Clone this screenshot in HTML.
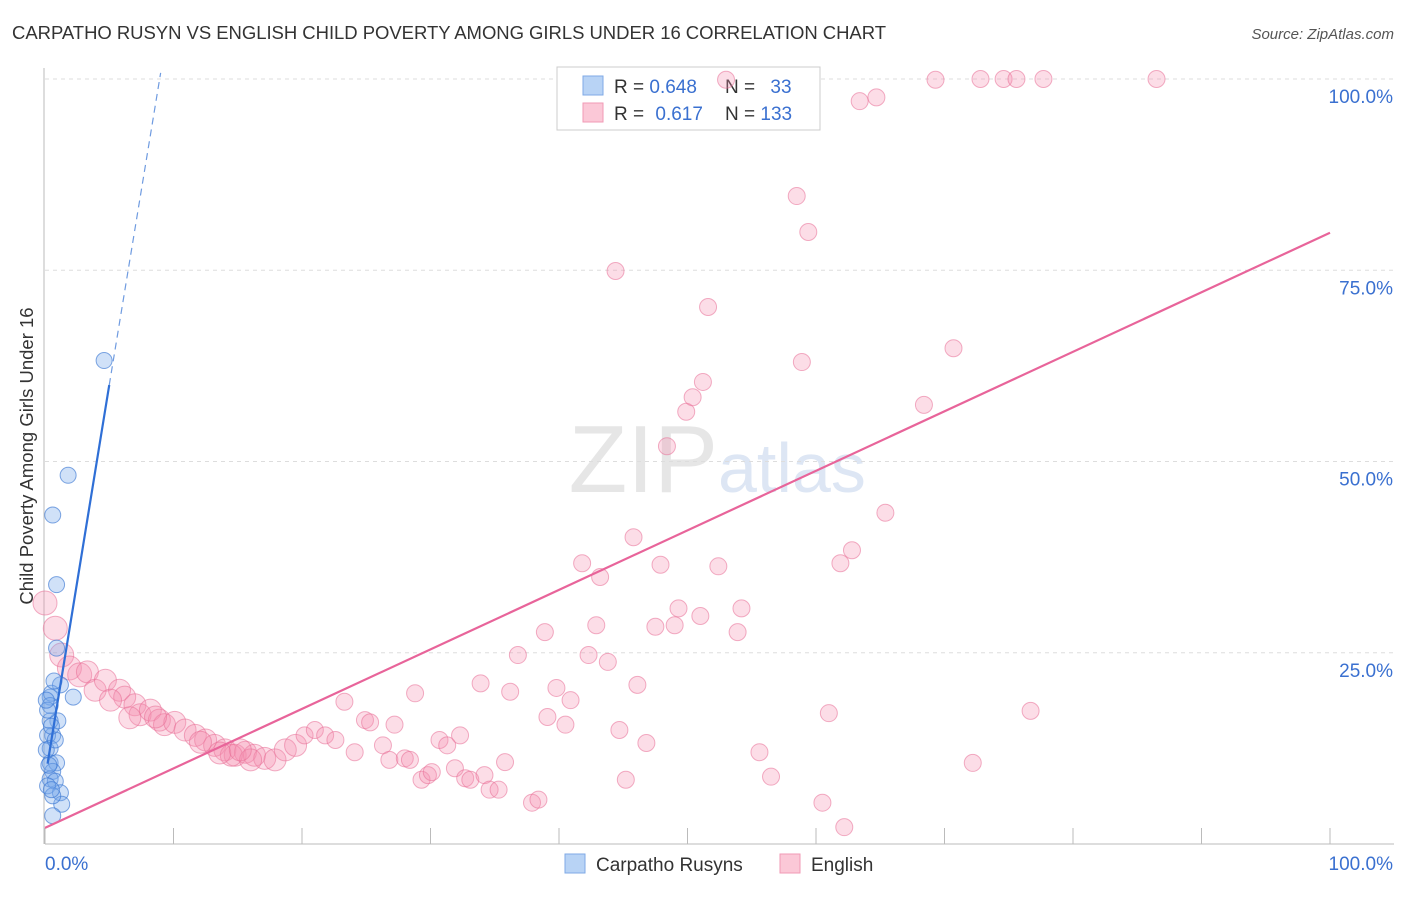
<!DOCTYPE html>
<html><head><meta charset="utf-8">
<style>
body{margin:0;background:#fff;font-family:"Liberation Sans",sans-serif;}
svg text{font-family:"Liberation Sans",sans-serif;}
</style></head>
<body>
<svg id="chart" width="1406" height="892" xmlns="http://www.w3.org/2000/svg">
<text x="12" y="39" font-size="18.5" fill="#333" textLength="874">CARPATHO RUSYN VS ENGLISH CHILD POVERTY AMONG GIRLS UNDER 16 CORRELATION CHART</text>
<text x="1394" y="39" font-size="15" fill="#555" text-anchor="end" font-style="italic">Source: ZipAtlas.com</text>
<text x="718" y="492" font-size="96" fill="#e6e6e6" text-anchor="end" font-family="Liberation Serif">ZIP</text>
<text x="718" y="492" font-size="70" fill="#dde6f4">atlas</text>
<g id="grid"></g>
<g id="axes"></g>
<g>
<rect x="557" y="67" width="263" height="63" fill="#fff" stroke="#ccc"/>
<rect x="583" y="76" width="20" height="19" fill="#b8d3f5" stroke="#7fa9e6"/>
<rect x="583" y="103" width="20" height="19" fill="#fbc8d7" stroke="#f09ab5"/>
<text x="614" y="93" font-size="19" fill="#333">R = <tspan fill="#3a70d0">0.648</tspan></text>
<text x="725" y="93" font-size="19" fill="#333">N = <tspan fill="#3a70d0" dx="10">33</tspan></text>
<text x="614" y="120" font-size="19" fill="#333">R = <tspan fill="#3a70d0" dx="6">0.617</tspan></text>
<text x="725" y="120" font-size="19" fill="#333">N = <tspan fill="#3a70d0">133</tspan></text>
</g>
<g id="pts"></g>
<g id="lines"></g>
<text transform="translate(33,456) rotate(-90)" font-size="18.5" fill="#333" text-anchor="middle">Child Poverty Among Girls Under 16</text>
<g>
<rect x="565" y="854" width="20" height="19" fill="#b8d3f5" stroke="#7fa9e6"/>
<text x="596" y="871" font-size="19" fill="#333">Carpatho Rusyns</text>
<rect x="780" y="854" width="20" height="19" fill="#fbc8d7" stroke="#f09ab5"/>
<text x="811" y="871" font-size="19" fill="#333">English</text>
</g>
</svg>
<script>
const blueX=[4.6,1.8,0.6,0.9,0.9,2.2,1.2,0.4,0.5,0.4,1.0,0.4,0.6,0.2,0.4,0.4,0.9,0.6,0.4,0.8,0.2,1.2,1.3,0.6,0.6,0.2,0.1,0.5,0.8,0.3,0.7,0.5,0.1];
const blueY=[63.2,48.2,43.0,33.9,25.6,19.2,20.8,19.2,19.7,18.1,16.1,16.1,14.2,14.2,12.5,10.6,10.6,9.5,8.5,8.2,7.6,6.7,5.2,6.3,3.7,17.5,12.3,7.1,13.6,10.3,21.3,15.4,18.8];
const pinkX=[0,0.8,1.3,1.9,2.7,3.3,3.9,4.7,5.8,6.2,7.0,7.4,8.2,8.9,9.3,10.1,10.9,11.7,12.5,13.2,14.0,14.8,15.6,16.3,17.1,17.9,18.7,19.5,20.2,21.0,21.8,22.6,23.3,24.1,24.9,25.3,26.3,26.8,27.2,28.0,28.4,28.8,29.3,29.8,30.1,30.7,31.3,31.9,32.3,32.7,33.1,33.9,34.2,34.6,35.3,35.8,36.2,36.8,37.9,38.4,38.9,39.1,39.8,40.5,40.9,41.8,42.3,42.9,43.2,43.8,44.4,44.7,45.2,45.8,46.1,46.8,47.5,47.9,48.4,49.0,49.3,49.9,50.4,51.0,51.2,51.6,52.4,53.0,53.9,54.2,55.6,56.5,58.5,58.9,59.4,60.5,61.0,61.9,62.2,62.8,63.4,64.7,65.4,68.4,69.3,70.7,72.2,72.8,74.6,75.6,76.7,77.7,86.5,14.5,16.0,6.6,5.1,8.6,12.1,13.6,15.2];
const pinkY=[31.5,28.2,24.7,23.0,22.1,22.5,20.1,21.4,20.1,19.2,18.2,16.9,17.5,16.2,15.6,15.9,14.9,14.2,13.6,12.9,12.3,11.6,12.0,11.6,11.2,11.0,12.3,12.9,14.2,14.9,14.2,13.6,18.6,12.0,16.2,15.9,12.9,11.0,15.6,11.2,11.0,19.7,8.4,9.0,9.4,13.6,12.9,9.9,14.2,8.6,8.4,21.0,9.0,7.1,7.1,10.7,19.9,24.7,5.4,5.8,27.7,16.6,20.4,15.6,18.8,36.7,24.7,28.6,34.9,23.8,74.9,14.9,8.4,40.1,20.8,13.2,28.4,36.5,52.0,28.6,30.8,56.5,58.4,29.8,60.4,70.2,36.3,99.9,27.7,30.8,12.0,8.8,84.7,63.0,80.0,5.4,17.1,36.7,2.2,38.4,97.1,97.6,43.3,57.4,99.9,64.8,10.6,100,100,100,17.4,100,100,11.6,11.0,16.5,18.8,16.6,13.3,11.9,12.3];
const yTicks=[25,50,75,100];
const yTickLabels=["25.0%","50.0%","75.0%","100.0%"];
const xTicks=[0,10,20,30,40,50,60,70,80,90,100];
const xEndLabels=["0.0%","100.0%"];
const blueLine=[0.2,10.5,5.0,60.0,9.0,100.8];
const pinkLine=[0,2.1,100,79.9];
const NS="http://www.w3.org/2000/svg";
const X=v=>45+v*12.85, Y=v=>844-v*7.65;
function mk(parent,tag,attrs){const e=document.createElementNS(NS,tag);for(const k in attrs)e.setAttribute(k,attrs[k]);parent.appendChild(e);return e;}
const grid=document.getElementById('grid'),axes=document.getElementById('axes'),pts=document.getElementById('pts'),lines=document.getElementById('lines');
yTicks.forEach((t,i)=>{
 const l=mk(grid,'line',{x1:45,x2:1394,y1:Y(t),y2:Y(t),stroke:'#ddd','stroke-dasharray':'4,4'});
 
 
 const tx=mk(grid,'text',{x:1393,y:Y(t)+24,'font-size':19,fill:'#3a70d0','text-anchor':'end'});
 tx.textContent=yTickLabels[i];
 
 
});
const ax=mk(axes,'line',{x1:45,x2:1394,y1:844,y2:844,stroke:'#bbb'});


const ay=mk(axes,'line',{x1:44,x2:44,y1:68,y2:844,stroke:'#bbb'});


xTicks.forEach(t=>{
 const l=mk(axes,'line',{x1:X(t),x2:X(t),y1:828,y2:844,stroke:'#bbb'});
 
 
});
const xl0=mk(axes,'text',{x:45,y:870,'font-size':19,fill:'#3a70d0'});xl0.textContent=xEndLabels[0];


const xl1=mk(axes,'text',{x:1393,y:870,'font-size':19,fill:'#3a70d0','text-anchor':'end'});xl1.textContent=xEndLabels[1];


pinkX.forEach((x,i)=>{
 const r=x<3?12:(x<20?11:8.5);
 const c=mk(pts,'circle',{cx:X(x),cy:Y(pinkY[i]),r:r,fill:'rgba(244,143,177,0.3)',stroke:'rgba(232,110,150,0.55)','stroke-width':1});
 
 
});
blueX.forEach((x,i)=>{
 const c=mk(pts,'circle',{cx:X(x),cy:Y(blueY[i]),r:8,fill:'rgba(120,170,235,0.35)',stroke:'rgba(60,120,210,0.65)','stroke-width':1});
 
 
});
const b1=mk(lines,'line',{x1:X(blueLine[0]),y1:Y(blueLine[1]),x2:X(blueLine[2]),y2:Y(blueLine[3]),stroke:'#2f6fd6','stroke-width':2.2});


const b2=mk(lines,'line',{x1:X(blueLine[2]),y1:Y(blueLine[3]),x2:X(blueLine[4]),y2:Y(blueLine[5]),stroke:'#6f9be0','stroke-width':1.2,'stroke-dasharray':'7,5'});


const p1=mk(lines,'line',{x1:X(pinkLine[0]),y1:Y(pinkLine[1]),x2:X(pinkLine[2]),y2:Y(pinkLine[3]),stroke:'#e8649a','stroke-width':2.2});


</script>
</body></html>
